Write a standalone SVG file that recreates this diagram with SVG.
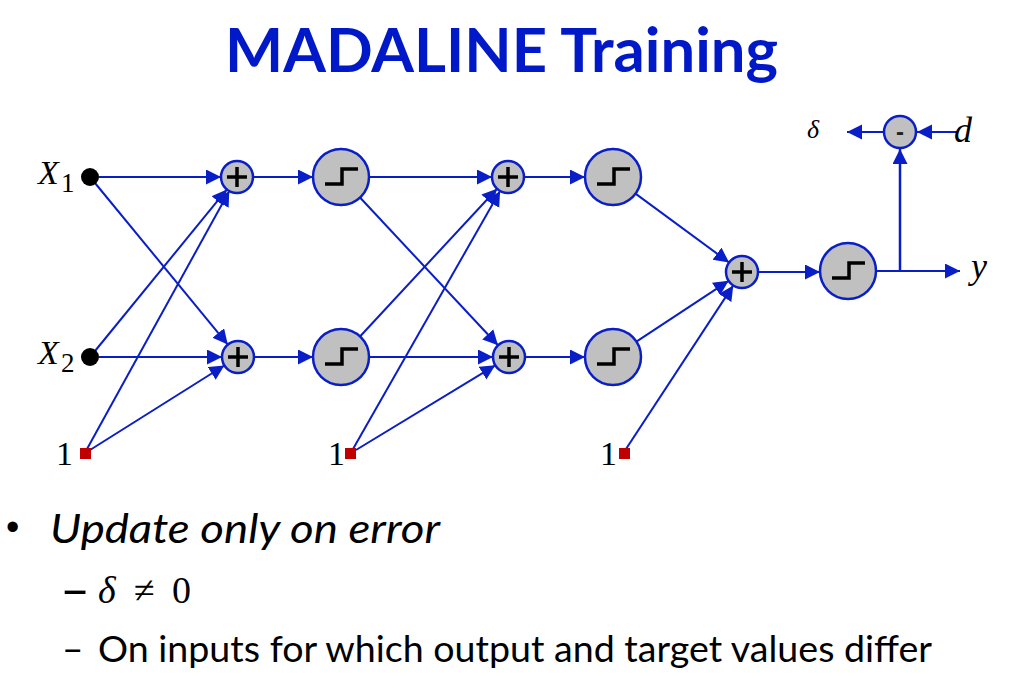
<svg xmlns="http://www.w3.org/2000/svg" width="1010" height="694" viewBox="0 0 1010 694">
<style>
.e{stroke:#0a1ec8;stroke-width:2;fill:none;marker-end:url(#ah)}
.n{fill:#c0c0c0;stroke:#0a1ec8;stroke-width:2.5}
.g{stroke:#000;stroke-width:3.5;fill:none}
.in{fill:#000}
.b{fill:#c00000}
.m{font-family:"Liberation Serif",serif;fill:#000}
.t{font-family:Lato,"Open Sans",sans-serif;fill:#000}
</style>
<defs>
<marker id="ah" markerUnits="userSpaceOnUse" markerWidth="16" markerHeight="16" refX="15" refY="7.5" orient="auto">
<path d="M0,0 L15,7.5 L0,15 z" fill="#0a1ec8"/>
</marker>
<path id="step" d="M-16,7 H1 V-8 H17"/>
<path id="plus" d="M-10,0 H10 M0,-10 V10"/>
</defs>
<rect width="1010" height="694" fill="#fff"/>
<text x="225" y="72" textLength="553" lengthAdjust="spacingAndGlyphs" font-family="Lato,'Open Sans',sans-serif" font-weight="bold" font-size="61" fill="#0019c8">MADALINE Training</text>

<g id="connectors">
<line class="e" x1="99" y1="177" x2="221" y2="177"/>
<line class="e" x1="95" y1="183" x2="227.8" y2="344.6"/>
<line class="e" x1="95" y1="351" x2="226.9" y2="189.4"/>
<line class="e" x1="99" y1="357" x2="222" y2="357"/>
<line class="e" x1="87" y1="449" x2="229.3" y2="191"/>
<line class="e" x1="90" y1="450" x2="224.4" y2="365.5"/>
<line class="e" x1="253" y1="177" x2="313" y2="177"/>
<line class="e" x1="254" y1="357" x2="313" y2="357"/>
<line class="e" x1="369" y1="177" x2="492" y2="177"/>
<line class="e" x1="360" y1="197.5" x2="498" y2="345.3"/>
<line class="e" x1="360" y1="336.5" x2="497.1" y2="188.7"/>
<line class="e" x1="369" y1="357" x2="493" y2="357"/>
<line class="e" x1="353" y1="449" x2="500.1" y2="190.9"/>
<line class="e" x1="356" y1="450" x2="495.3" y2="365.3"/>
<line class="e" x1="524" y1="177" x2="585" y2="177"/>
<line class="e" x1="525" y1="357" x2="585" y2="357"/>
<line class="e" x1="635.5" y1="193.6" x2="729.1" y2="262.5"/>
<line class="e" x1="636.4" y1="341.6" x2="728.6" y2="280.8"/>
<line class="e" x1="626" y1="449" x2="733.3" y2="285.4"/>
<line class="e" x1="758" y1="272" x2="820" y2="272"/>
<line class="e" x1="876" y1="271" x2="960" y2="271"/>
<line class="e" style="stroke-width:2.5" x1="900" y1="271" x2="900" y2="149"/>
<line class="e" x1="958" y1="132" x2="917" y2="132"/>
<line class="e" x1="883" y1="132" x2="847" y2="132"/>
</g>

<g id="x1"><circle class="in" cx="90" cy="177" r="9"/><text class="m" x="38" y="184" font-size="34" font-style="italic">X</text><text class="m" x="61" y="192" font-size="27">1</text></g>
<g id="x2"><circle class="in" cx="90" cy="357" r="9"/><text class="m" x="38" y="364" font-size="34" font-style="italic">X</text><text class="m" x="61" y="372" font-size="27">2</text></g>
<g id="bias1"><rect class="b" x="80" y="448" width="11" height="11"/><text class="m" x="56" y="465" font-size="34">1</text></g>
<g id="bias2"><rect class="b" x="345" y="448" width="11" height="11"/><text class="m" x="328" y="465" font-size="34">1</text></g>
<g id="bias3"><rect class="b" x="619" y="448" width="11" height="11"/><text class="m" x="600" y="465" font-size="34">1</text></g>

<g id="sum11"><circle class="n" cx="237" cy="177" r="16"/><use href="#plus" class="g" x="237" y="177"/></g>
<g id="sum12"><circle class="n" cx="238" cy="357" r="16"/><use href="#plus" class="g" x="238" y="357"/></g>
<g id="step11"><circle class="n" cx="341" cy="177" r="28"/><use href="#step" class="g" x="341" y="177"/></g>
<g id="step12"><circle class="n" cx="341" cy="357" r="28"/><use href="#step" class="g" x="341" y="357"/></g>
<g id="sum21"><circle class="n" cx="508" cy="177" r="16"/><use href="#plus" class="g" x="508" y="177"/></g>
<g id="sum22"><circle class="n" cx="509" cy="357" r="16"/><use href="#plus" class="g" x="509" y="357"/></g>
<g id="step21"><circle class="n" cx="613" cy="177" r="28"/><use href="#step" class="g" x="613" y="177"/></g>
<g id="step22"><circle class="n" cx="613" cy="357" r="28"/><use href="#step" class="g" x="613" y="357"/></g>
<g id="sum3"><circle class="n" cx="742" cy="272" r="16"/><use href="#plus" class="g" x="742" y="272"/></g>
<g id="step3"><circle class="n" cx="848" cy="271" r="28"/><use href="#step" class="g" x="848" y="271"/></g>
<g id="minus"><circle class="n" cx="900" cy="132" r="16"/><text x="900" y="140" text-anchor="middle" font-family="'Liberation Sans',sans-serif" font-weight="bold" font-size="24" fill="#222">-</text></g>
<g id="labels">
<text class="m" x="807" y="138" font-size="26" font-style="italic">δ</text>
<text class="m" x="954" y="142" font-size="36" font-style="italic">d</text>
<text class="m" x="971" y="278" font-size="36" font-style="italic">y</text>
</g>

<g id="bullets">
<text x="6" y="540" font-family="'Liberation Sans',sans-serif" font-size="38">•</text>
<text class="t" x="50" y="543" font-size="41" font-style="italic" textLength="390" lengthAdjust="spacingAndGlyphs">Update only on error</text>
<text class="t" x="60" y="608" font-size="52">–</text>
<text class="m" x="98" y="603" font-size="38" font-style="italic">δ</text>
<text class="m" x="134" y="603" font-size="38">≠</text>
<text class="m" x="172" y="603" font-size="38">0</text>
<text class="t" x="62" y="662" font-size="37">–</text>
<text class="t" x="98" y="662" font-size="37" textLength="834" lengthAdjust="spacingAndGlyphs">On inputs for which output and target values differ</text>
</g>
</svg>
